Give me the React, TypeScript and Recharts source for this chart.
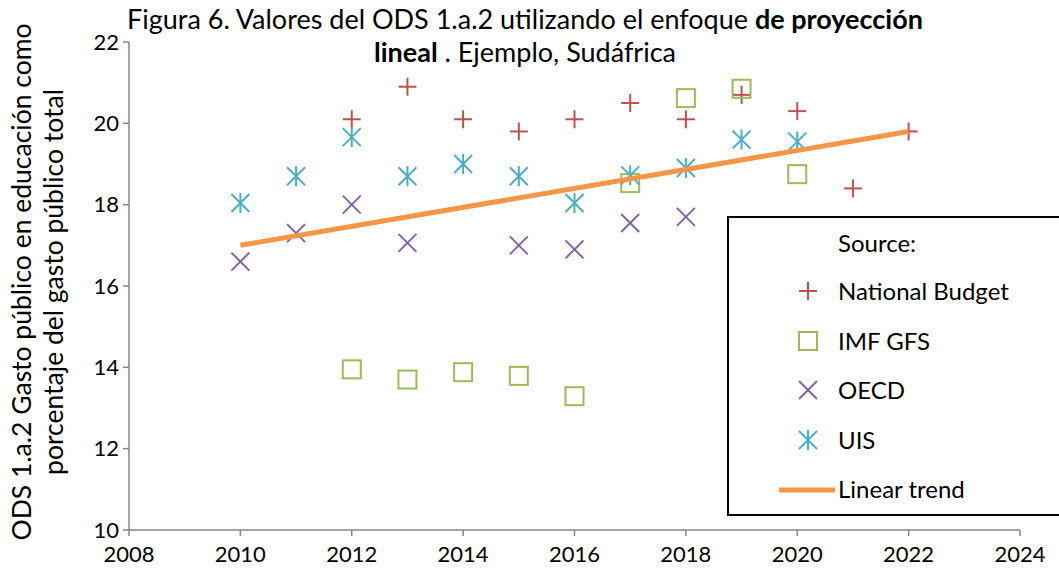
import { ScatterChart, Scatter, XAxis, YAxis, Label } from 'recharts'

// values (percent of total public expenditure)
const NB_YEARS = [2012, 2013, 2014, 2015, 2016, 2017, 2018, 2019, 2020, 2021, 2022]
const NB_VALUES = [20.1, 20.9, 20.1, 19.8, 20.1, 20.5, 20.1, 20.7, 20.3, 18.4, 19.8]

const IMF_YEARS = [2012, 2013, 2014, 2015, 2016, 2017, 2018, 2019, 2020]
const IMF_VALUES = [13.95, 13.7, 13.88, 13.79, 13.29, 18.53, 20.62, 20.85, 18.75]

const OECD_YEARS = [2010, 2011, 2012, 2013, 2015, 2016, 2017, 2018]
const OECD_VALUES = [16.6, 17.3, 18.0, 17.06, 17.0, 16.9, 17.55, 17.7]

const UIS_YEARS = [2010, 2011, 2012, 2013, 2014, 2015, 2016, 2017, 2018, 2019, 2020]
const UIS_VALUES = [18.04, 18.7, 19.66, 18.7, 19.0, 18.7, 18.04, 18.72, 18.9, 19.6, 19.55]

const TREND_YEARS = [2010, 2022]
const TREND_VALUES = [17.0, 19.8]

const X_TICKS = [2008, 2010, 2012, 2014, 2016, 2018, 2020, 2022, 2024]
const Y_TICKS = [10, 12, 14, 16, 18, 20, 22]

const RED = '#C0504D'
const GREEN = '#9BBB59'
const PURPLE = '#8064A2'
const CYAN = '#4BACC6'
const ORANGE = '#F79646'
const AXIS = '#868686'
const FONT = 'Lato, "Open Sans", sans-serif'

const toPoints = (xs: number[], ys: number[]) => xs.map((x, i) => ({ x, y: ys[i] }))

type MarkKind = 'plus' | 'square' | 'cross' | 'star'

function Mark({ kind, cx, cy, color }: { kind: MarkKind; cx: number; cy: number; color: string }) {
  const r = 9
  const sw = 2
  if (kind === 'plus')
    return (
      <g stroke={color} strokeWidth={sw}>
        <line x1={cx - r} y1={cy} x2={cx + r} y2={cy} />
        <line x1={cx} y1={cy - r} x2={cx} y2={cy + r} />
      </g>
    )
  if (kind === 'square')
    return <rect x={cx - r} y={cy - r} width={2 * r} height={2 * r} fill="none" stroke={color} strokeWidth={sw} />
  if (kind === 'cross')
    return (
      <g stroke={color} strokeWidth={sw}>
        <line x1={cx - r} y1={cy - r} x2={cx + r} y2={cy + r} />
        <line x1={cx - r} y1={cy + r} x2={cx + r} y2={cy - r} />
      </g>
    )
  return (
    <g stroke={color} strokeWidth={sw}>
      <line x1={cx - r} y1={cy - r} x2={cx + r} y2={cy + r} />
      <line x1={cx - r} y1={cy + r} x2={cx + r} y2={cy - r} />
      <line x1={cx} y1={cy - r - 1} x2={cx} y2={cy + r + 1} />
    </g>
  )
}

const shapeOf = (kind: MarkKind, color: string) => (p: any) =>
  <Mark kind={kind} cx={p.cx} cy={p.cy} color={color} />

const LEGEND_ROWS: { label: string; kind: MarkKind | 'line'; color: string }[] = [
  { label: 'National Budget', kind: 'plus', color: RED },
  { label: 'IMF GFS', kind: 'square', color: GREEN },
  { label: 'OECD', kind: 'cross', color: PURPLE },
  { label: 'UIS', kind: 'star', color: CYAN },
  { label: 'Linear trend', kind: 'line', color: ORANGE },
]

function LegendBox() {
  return (
    <div
      style={{
        position: 'absolute',
        left: 727,
        top: 216,
        width: 340,
        height: 300,
        border: '2px solid #000',
        background: '#fff',
        fontFamily: FONT,
        fontSize: 24,
        lineHeight: '30px',
        color: '#000',
        boxSizing: 'border-box',
      }}
    >
      <div style={{ position: 'absolute', left: 109, top: 10 }}>Source:</div>
      {LEGEND_ROWS.map((row, i) => (
        <div key={row.label} style={{ position: 'absolute', left: 0, top: 58 + i * 49.5, height: 30, width: 330 }}>
          <svg width={110} height={30} style={{ position: 'absolute', left: 0, top: 0 }}>
            {row.kind === 'line' ? (
              <line x1={50} y1={16} x2={106} y2={16} stroke={row.color} strokeWidth={5} />
            ) : (
              <Mark kind={row.kind} cx={79} cy={15} color={row.color} />
            )}
          </svg>
          <div style={{ position: 'absolute', left: 109, top: 0 }}>{row.label}</div>
        </div>
      ))}
    </div>
  )
}

function YTitle(props: any) {
  const { viewBox } = props
  const cy = viewBox.y + viewBox.height / 2 - 4
  return (
    <g fontFamily={FONT} fontSize={26.5} fill="#000">
      <text x={21} y={cy} transform={`rotate(-90 21 ${cy})`} textAnchor="middle" dominantBaseline="central">
        ODS 1.a.2 Gasto público en educación como
      </text>
      <text x={53} y={cy} transform={`rotate(-90 53 ${cy})`} textAnchor="middle" dominantBaseline="central">
        porcentaje del gasto público total
      </text>
    </g>
  )
}

export default function App() {
  return (
    <div style={{ position: 'absolute', left: 0, top: 0, width: 1059, height: 578, background: '#fff', overflow: 'hidden' }}>
      <ScatterChart width={1059} height={578} margin={{ top: 42, right: 39, bottom: 0, left: 79 }}>
        <XAxis
          type="number"
          dataKey="x"
          domain={[2008, 2024]}
          ticks={X_TICKS}
          interval={0}
          height={48}
          tick={{ fill: '#000', fontSize: 22, fontFamily: FONT }}
          tickMargin={10}
          axisLine={{ stroke: AXIS, strokeWidth: 1.5 }}
          tickLine={{ stroke: AXIS, strokeWidth: 1.5 }}
          tickSize={6}
        />
        <YAxis
          type="number"
          dataKey="y"
          domain={[10, 22]}
          ticks={Y_TICKS}
          interval={0}
          width={50}
          tick={{ fill: '#000', fontSize: 22, fontFamily: FONT }}
          tickMargin={4}
          axisLine={{ stroke: AXIS, strokeWidth: 1.5 }}
          tickLine={{ stroke: AXIS, strokeWidth: 1.5 }}
          tickSize={6}
        >
          <Label content={YTitle} />
        </YAxis>
        <Scatter data={toPoints(NB_YEARS, NB_VALUES)} shape={shapeOf('plus', RED)} isAnimationActive={false} />
        <Scatter data={toPoints(IMF_YEARS, IMF_VALUES)} shape={shapeOf('square', GREEN)} isAnimationActive={false} />
        <Scatter data={toPoints(OECD_YEARS, OECD_VALUES)} shape={shapeOf('cross', PURPLE)} isAnimationActive={false} />
        <Scatter data={toPoints(UIS_YEARS, UIS_VALUES)} shape={shapeOf('star', CYAN)} isAnimationActive={false} />
        <Scatter
          data={toPoints(TREND_YEARS, TREND_VALUES)}
          line={{ stroke: ORANGE, strokeWidth: 5 }}
          shape={() => <g />}
          isAnimationActive={false}
        />
      </ScatterChart>
      <LegendBox />
      <div
        style={{
          position: 'absolute',
          left: 0,
          top: 2,
          width: 1050,
          textAlign: 'center',
          fontFamily: FONT,
          fontSize: 27,
          lineHeight: '33px',
          color: '#000',
        }}
      >
        Figura 6. Valores del ODS 1.a.2 utilizando el enfoque <b>de proyección</b>
        <br />
        <b>lineal</b> . Ejemplo, Sudáfrica
      </div>
    </div>
  )
}
